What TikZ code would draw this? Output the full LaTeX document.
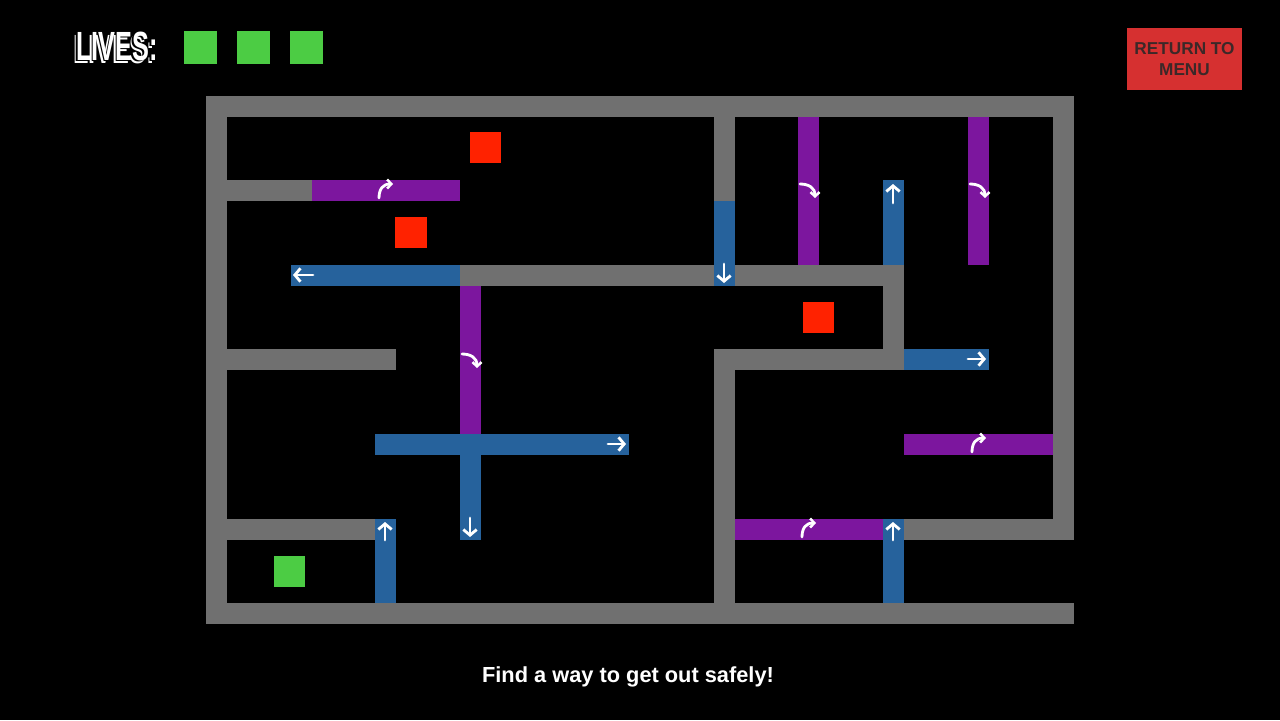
\documentclass[tikz,border=0pt]{standalone}
\usepackage{fontspec}
\setmainfont{Liberation Sans}
\usetikzlibrary{arrows.meta}
\definecolor{wallc}{RGB}{112,112,112}
\definecolor{bluec}{RGB}{38,98,156}
\definecolor{purc}{RGB}{124,22,158}
\definecolor{redc}{RGB}{255,34,0}
\definecolor{greenc}{RGB}{76,204,68}
\definecolor{btnc}{RGB}{214,48,48}
\definecolor{btntxt}{RGB}{60,40,40}
\begin{document}
\begin{tikzpicture}[x=0.05cm,y=-0.05cm,
  wall/.style={fill=wallc},
  blu/.style={fill=bluec},
  pur/.style={fill=purc},
  arr/.style={draw=white,line width=4.2pt,line cap=round,-{Straight Barb[length=8pt,width=19pt,line width=4pt]}},
  carr/.style={draw=white,line width=4pt,line cap=round,-{Straight Barb[length=6pt,width=13pt,line width=3.5pt]}},
  lives/.style={font=\bfseries\fontsize{58}{58}\selectfont,xscale=0.62,inner sep=0pt}]
\fill[black] (0,0) rectangle (1280,720);
\useasboundingbox (0,0) rectangle (1280,720);
% outer walls
\fill[wall] (206,96) rectangle (1074,117);
\fill[wall] (206,96) rectangle (227,624);
\fill[wall] (206,603) rectangle (1074,624);
\fill[wall] (1053,96) rectangle (1074,540);
% interior
\fill[wall] (227,180) rectangle (312,201);
\fill[pur] (312,180) rectangle (460,201);
\fill[blu] (291,265) rectangle (460,286);
\fill[wall] (460,265) rectangle (714,286);
\fill[wall] (714,117) rectangle (735,201);
\fill[blu] (714,201) rectangle (735,286);
\fill[wall] (735,265) rectangle (904,286);
\fill[pur] (798,117) rectangle (819,265);
\fill[blu] (883,180) rectangle (904,265);
\fill[pur] (968,117) rectangle (989,265);
\fill[wall] (883,286) rectangle (904,370);
\fill[wall] (714,349) rectangle (904,370);
\fill[blu] (904,349) rectangle (989,370);
\fill[wall] (714,349) rectangle (735,603);
\fill[pur] (904,434) rectangle (1053,455);
\fill[pur] (735,519) rectangle (883,540);
\fill[blu] (883,519) rectangle (904,603);
\fill[wall] (904,519) rectangle (1074,540);
\fill[wall] (227,349) rectangle (396,370);
\fill[pur] (460,286) rectangle (481,434);
\fill[blu] (375,434) rectangle (629,455);
\fill[blu] (460,455) rectangle (481,540);
\fill[wall] (227,519) rectangle (375,540);
\fill[blu] (375,519) rectangle (396,603);
% straight arrows
\draw[arr] (313,275) -- (293,275);
\draw[arr] (724,264) -- (724,283);
\draw[arr] (893,203) -- (893,184);
\draw[arr] (968,359) -- (986,359);
\draw[arr] (608,444) -- (626,444);
\draw[arr] (470,518) -- (470,537);
\draw[arr] (385,540) -- (385,522);
\draw[arr] (893,540) -- (893,522);
% curved arrows
\foreach \cx/\cy in {385/190, 978/444, 808/529}
  \draw[carr] (\cx-6,\cy+8) .. controls (\cx-6,\cy-1) and (\cx-2,\cy-6) .. (\cx+8,\cy-6);
\foreach \cx/\cy in {808/190, 978/190, 470/360}
  \draw[carr] (\cx-8,\cy-6) .. controls (\cx+1,\cy-6) and (\cx+7,\cy-2) .. (\cx+7,\cy+8);
% squares
\fill[redc] (470,132) rectangle (501,163);
\fill[redc] (395,217) rectangle (427,248);
\fill[redc] (803,302) rectangle (834,333);
\fill[greenc] (274,556) rectangle (305,587);
\fill[greenc] (184,31) rectangle (217,64);
\fill[greenc] (237,31) rectangle (270,64);
\fill[greenc] (290,31) rectangle (323,64);
% lives
\node[white,lives] (lvA) at (114,49) {LIVES:};
\node[black,lives] (lvB) at (115.5,47.5) {LIVES:};
\node[white,lives] (lv) at (117,46) {LIVES:};
% button
\fill[btnc] (1127,28) rectangle (1242,90);
\node[btntxt,font=\bfseries\fontsize{24.5}{29}\selectfont,align=center] (btn) at (1184.5,59) {RETURN TO\\MENU};
% message
\node[white,font=\bfseries\fontsize{31}{34}\selectfont] (msg) at (628,677) {Find a way to get out safely!};
\end{tikzpicture}
\end{document}
